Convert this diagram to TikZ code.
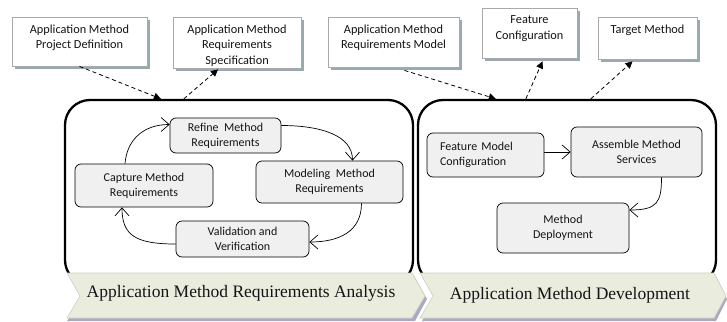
\documentclass[tikz,border=0pt]{standalone}
\usepackage{fontspec}
\setmainfont{Liberation Serif}
\newfontfamily\carlito{Carlito}
\usetikzlibrary{arrows.meta,calc}
\definecolor{boxshadow}{RGB}{150,170,176}
\definecolor{boxborder}{RGB}{170,170,170}
\definecolor{innerfill}{RGB}{240,240,240}
\definecolor{bannerfill}{RGB}{234,237,222}
\definecolor{bannershadow}{RGB}{170,170,195}
\definecolor{bannerborder}{RGB}{205,208,195}
\definecolor{txt}{RGB}{20,20,20}
\begin{document}
\begin{tikzpicture}[x=1pt,y=-1pt,
  topbox/.style={draw=boxborder, line width=0.8pt, fill=white, inner sep=0pt,
    preaction={fill=boxshadow, transform canvas={xshift=3pt,yshift=-3pt}}},
  toptext/.style={anchor=north, align=center, inner sep=0pt, yshift=-8pt, text=txt,
    font=\carlito\fontsize{12.3}{15.5}\selectfont},
  bigbox/.style={draw=black, line width=2.3pt, rounded corners=25pt, fill=white, inner sep=0pt},
  innerbox/.style={draw=black, line width=0.7pt, rounded corners=6pt, fill=innerfill,
    align=center, inner sep=0pt, text=txt, font=\carlito\fontsize{12}{15}\selectfont},
  bannertext/.style={font=\fontsize{17.5}{20}\selectfont, text=txt, inner sep=0pt},
  dasharrow/.style={draw=black, line width=0.8pt, dash pattern=on 4pt off 3pt,
    -{Triangle[length=7pt,width=7pt]}},
  cyc/.style={draw=black, line width=0.7pt, -{Straight Barb[length=8pt,width=14pt]}}]
\useasboundingbox (0,0) rectangle (727,321);

% big rounded boxes
\node[bigbox, minimum width=348pt, minimum height=185pt] (L) at (239,192.5) {};
\node[bigbox, minimum width=298pt, minimum height=185pt] (R) at (567,192.5) {};

% banners
\fill[bannershadow] (69,276) -- (414,276) -- (427,299) -- (415,321) -- (67,321) -- (82,299) -- cycle;
\fill[bannershadow] (422,276) -- (716,276) -- (727,299) -- (716,321) -- (422,321) -- (435,299) -- cycle;
\draw[fill=bannerfill, draw=bannerborder, line width=0.6pt]
  (67,273) -- (412,273) -- (425,296) -- (412,318) -- (67,318) -- (80,296) -- cycle;
\draw[fill=bannerfill, draw=bannerborder, line width=0.6pt]
  (420,273) -- (714,273) -- (726,296) -- (714,318) -- (420,318) -- (433,296) -- cycle;
\node[bannertext] (tl) at (241,293) {Application Method Requirements Analysis};
\node[bannertext] (tr) at (570,295) {Application Method Development};

% top artefact boxes
\node[topbox, minimum width=135pt, minimum height=49pt,
  label={[toptext]north:{Application Method\\Project Definition}}] (b1) at (79.5,41.5) {};
\node[topbox, minimum width=128pt, minimum height=51pt,
  label={[toptext]north:{Application Method\\Requirements\\Specification}}] (b2) at (237,42.5) {};
\node[topbox, minimum width=131pt, minimum height=50pt,
  label={[toptext]north:{Application Method\\Requirements Model}}] (b3) at (393.5,42) {};
\node[topbox, minimum width=95pt, minimum height=50pt,
  label={[toptext]north:{Feature\\Configuration}}] (b4) at (529.5,33) {};
\node[topbox, minimum width=99pt, minimum height=42pt,
  label={[toptext]north:{Target Method}}] (b5) at (647.5,38) {};

% inner process boxes
\node[innerbox, minimum width=111pt, minimum height=35pt] (ref) at (225.5,135.5) {Refine~~Method\\Requirements};
\node[innerbox, minimum width=138pt, minimum height=43pt] (cap) at (144,185.5) {Capture Method\\Requirements};
\node[innerbox, minimum width=147pt, minimum height=42pt] (mod) at (329.5,182) {Modeling~~Method\\Requirements};
\node[innerbox, minimum width=133pt, minimum height=36pt] (val) at (242.5,239) {Validation and\\Verification};
\node[innerbox, text width=91pt, inner xsep=13pt, align=left, minimum height=44pt] (fm) at (485.5,155) {Feature Model\\Configuration};
\node[innerbox, minimum width=131pt, minimum height=50pt] (as) at (636.5,152) {Assemble Method\\Services};
\node[innerbox, minimum width=132pt, minimum height=50pt] (dep) at (563,228) {Method\\Deployment};

% dashed artefact arrows
\draw[dasharrow] (b1.south) -- ($(L.north west)+(97,0)$);
\draw[dasharrow] ($(L.north west)+(120,0)$) -- ($(b2.south)+(-19,1)$);
\draw[dasharrow] ($(b3.south)+(11,3)$) -- ($(R.north west)+(79,0)$);
\draw[dasharrow] ($(R.north west)+(109,0)$) -- ($(b4.south)+(13,3)$);
\draw[dasharrow] ($(R.north west)+(174,0)$) -- ($(b5.south)+(-15,2)$);

% cycle arrows
\draw[cyc] ($(cap.north)+(-19,0)$) .. controls +(2,-25) and +(-25,0) .. ($(ref.west)+(0,-11)$);
\draw[cyc] ($(ref.east)+(0,-10)$) .. controls +(40,0) and +(0,-25) .. ($(mod.north)+(23,0)$);
\draw[cyc] ($(mod.south)+(32,0)$) .. controls +(0,28) and +(30,0) .. ($(val.east)+(0,3)$);
\draw[cyc] ($(val.west)+(0,5)$) .. controls +(-40,0) and +(0,28) .. ($(cap.south)+(-22,0)$);
\draw[cyc] ($(fm.east)+(0,-3)$) -- (as.west);
\draw[cyc] ($(as.south)+(25,0)$) .. controls +(0,25) and +(28,0) .. ($(dep.east)+(0,-18)$);
\end{tikzpicture}
\end{document}
